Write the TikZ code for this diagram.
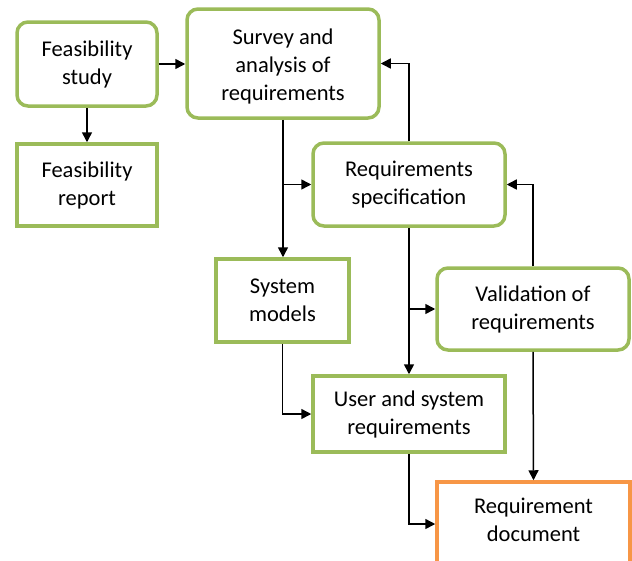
\documentclass[tikz,border=0pt]{standalone}
\usepackage{fontspec}
\setmainfont{Carlito}
\usetikzlibrary{arrows.meta}
\definecolor{boxgreen}{RGB}{155,187,89}
\definecolor{boxorange}{RGB}{247,150,70}
\begin{document}
\begin{tikzpicture}[x=1pt,y=-1pt,
  boxtext/.style={font=\fontsize{22.5}{28}\selectfont, align=center},
  every node/.style={boxtext, inner sep=0pt},
  stage/.style={draw=boxgreen, line width=3.5pt, rounded corners=11pt},
  product/.style={draw=boxgreen, line width=3.5pt},
  final/.style={draw=boxorange, line width=3.5pt},
  flow/.style={line width=1.5pt, -{Triangle[length=10pt,width=10pt]}}]
\useasboundingbox (0,0) rectangle (632,560);
\clip (0,0) rectangle (632,560);
% process steps and their outputs
\node[stage,   minimum width=140pt, minimum height=84pt]  (fs) at (87,64)    {Feasibility\\study};
\node[product, minimum width=140pt, minimum height=82pt]  (fr) at (87,185)   {Feasibility\\report};
\node[stage,   minimum width=192pt, minimum height=109pt,
      label={[yshift=-3pt, boxtext]center:Survey and\\analysis of\\requirements}] (sv) at (283,63.5) {};
\node[stage,   minimum width=192pt, minimum height=83pt]  (rs) at (409,184.5){Requirements\\specification};
\node[product, minimum width=133pt, minimum height=83pt]  (sm) at (282.5,300.5){System\\models};
\node[stage,   minimum width=192pt, minimum height=82pt]  (va) at (533,309)  {Validation of\\requirements};
\node[product, minimum width=192pt, minimum height=76pt]  (us) at (409,414)  {User and system\\requirements};
\node[final,   minimum width=193pt, minimum height=84pt,
      label={[yshift=4pt, boxtext]center:Requirement\\document}] (rd) at (533.5,524) {};
% connectors
\draw[flow] (fs.south) -- (fr.north);
\draw[flow] (fs.east) -- (fs.east -| sv.west);
\draw[flow] (sv.south) -- (sv.south |- sm.north);
\draw[flow] (sv.south |- rs.west) -- (rs.west);
\draw[flow] (rs.north) |- (sv.east);
\draw[flow] (va.north) |- (rs.east);
\draw[flow] (rs.south) -- (us.north);
\draw[flow] (rs.south |- va.west) -- (va.west);
\draw[flow] (sm.south) |- (us.west);
\draw[flow] (us.south) |- (rd.west);
\draw[flow] (va.south) -- (rd.north);
\end{tikzpicture}
\end{document}
